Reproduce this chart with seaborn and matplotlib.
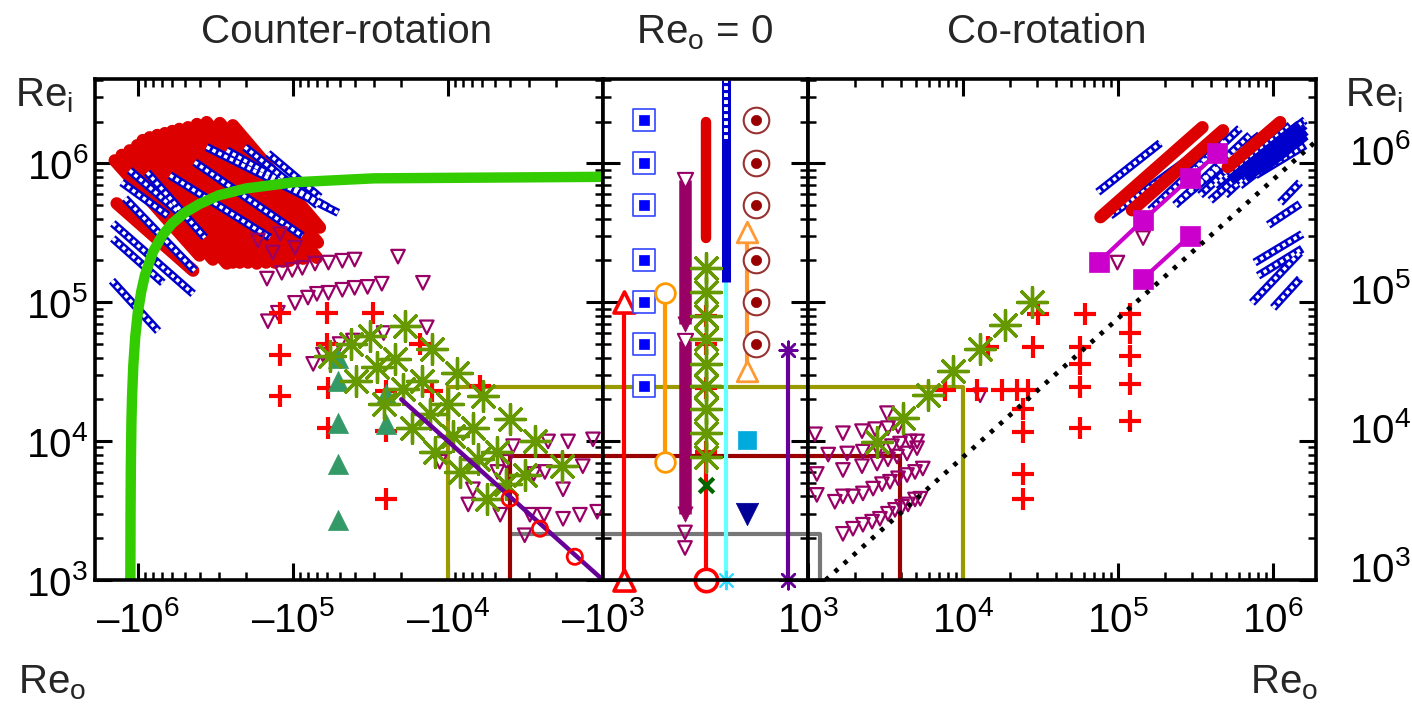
import warnings
warnings.filterwarnings("ignore")
import numpy as np
import pandas as pd
import matplotlib
matplotlib.use("Agg")
import matplotlib.pyplot as plt
import seaborn as sns
from matplotlib.ticker import FixedLocator, LogLocator, NullFormatter, FuncFormatter
from matplotlib.transforms import ScaledTranslation

sns.set_theme(style="ticks")
plt.rcParams.update({
    "font.family": ["Liberation Sans", "DejaVu Sans"],
    "mathtext.fontset": "custom",
    "mathtext.rm": "Liberation Sans",
    "mathtext.it": "Liberation Sans:italic",
    "mathtext.bf": "Liberation Sans:bold",
    "mathtext.default": "regular",
    "axes.edgecolor": "black",
    "xtick.color": "black",
    "ytick.color": "black",
})

# ===================== DATA =====================
# ---------- counter-rotation panel (Re_o < 0) ----------
# red filled-circle runs (start / end of each run)
cr_red_ro0 = [-1.37e6, -1.41e6, -1.27e6, -1.13e6, -1.01e6, -9.3e5, -8.4e5, -7.5e5, -6.7e5, -6.0e5,
              -5.4e5, -4.75e5, -4.16e5, -3.6e5, -2.96e5, -2.44e5]
cr_red_ri0 = [5.15e5, 1.05e6, 1.15e6, 1.24e6, 1.35e6, 1.47e6, 1.54e6, 1.60e6, 1.65e6, 1.71e6,
              1.77e6, 1.82e6, 1.92e6, 1.98e6, 1.95e6, 1.88e6]
cr_red_ro1 = [-4.4e5, -4.0e5, -3.28e5, -2.67e5, -2.44e5, -2.2e5, -1.95e5, -1.71e5, -1.49e5, -1.31e5,
              -1.16e5, -1.05e5, -8.6e4, -7.0e4, -6.9e4, -6.7e4]
cr_red_ri1 = [1.69e5, 2.17e5, 2.03e5, 1.90e5, 1.93e5, 1.93e5, 1.93e5, 1.90e5, 1.93e5, 1.93e5,
              1.96e5, 1.99e5, 2.06e5, 2.09e5, 2.69e5, 3.45e5]
# blue open-square runs
cr_blue_ro0 = [-1.47e6, -1.45e6, -1.45e6, -1.21e6, -1.27e6, -1.13e6, -8.7e5, -6.2e5, -4.3e5, -3.6e5, -2.67e5, -2.04e5, -1.45e5]
cr_blue_ri0 = [1.43e5, 2.88e5, 3.7e5, 5.6e5, 7.3e5, 8.9e5, 8.6e5, 8.2e5, 1.02e6, 1.31e6, 1.24e6, 1.31e6, 1.18e6]
cr_blue_ro1 = [-7.4e5, -6.9e5, -4.4e5, -4.3e5, -6.4e5, -5.4e5, -3.7e5, -1.41e5, -8.7e4, -5.1e4, -5.9e4, -6.9e4, -6.7e4]
cr_blue_ri1 = [6.2e4, 1.38e5, 1.15e5, 1.69e5, 4.2e5, 4.4e5, 2.92e5, 2.92e5, 3.0e5, 4.4e5, 4.8e5, 4.98e5, 5.7e5]
# green stability curve
cr_curve_ro = [-1.0e3, -3.0e4, -1.0e5, -2.0e5, -3.0e5, -4.0e5, -5.0e5, -6.0e5, -7.0e5, -8.0e5,
               -9.0e5, -9.5e5, -1.0e6, -1.04e6, -1.07e6, -1.09e6, -1.10e6, -1.11e6, -1.115e6, -1.118e6]
cr_curve_ri = [8.0e5, 7.8e5, 7.3e5, 6.6e5, 5.9e5, 5.1e5, 4.4e5, 3.7e5, 3.0e5, 2.3e5,
               1.57e5, 1.2e5, 8.5e4, 5.6e4, 3.5e4, 2.1e4, 1.4e4, 6.5e3, 2.9e3, 1.0e3]
# purple open triangles
cr_tri_ro = [-1.68e5, -1.35e5, -1.21e5, -9.7e4,
             -1.47e5, -1.18e5, -1.01e5, -8.7e4, -7.2e4, -5.9e4, -4.8e4, -4.0e4, -2.1e4, -1.45e4,
             -1.45e5, -1.25e5, -9.7e4, -8.0e4, -7.0e4, -5.9e4, -4.8e4, -4.0e4, -3.3e4, -2.67e4,
             -7.4e4, -6.4e4, -5.0e4, -4.1e4, -2.6e4, -1.37e4,
             -3.8e3, -4.2e3, -4.8e3, -6.9e3, -7.4e3, -4.6e3, -3.2e3, -2.96e3, -2.4e3, -1.81e3,
             -1.41e3, -1.09e3, -2.26e3, -1.68e3, -1.16e3, -1.35e3, -1.81e3, -2.37e3, -2.8e3, -1.13e4]
cr_tri_ri = [2.78e5, 2.28e5, 3.1e5, 2.47e5,
             1.48e5, 1.63e5, 1.71e5, 1.77e5, 1.90e5, 1.93e5, 1.99e5, 2.03e5, 2.13e5, 1.38e5,
             7.3e4, 8.4e4, 9.9e4, 1.08e5, 1.15e5, 1.17e5, 1.23e5, 1.27e5, 1.29e5, 1.36e5,
             3.6e4, 4.2e4, 5.0e4, 5.3e4, 6.0e4, 6.6e4,
             9.2e3, 7.1e3, 6.0e3, 4.5e3, 3.5e3, 2.95e3, 2.1e3, 2.95e3, 2.95e3, 2.76e3,
             2.95e3, 3.1e3, 9.95e3, 9.95e3, 1.03e4, 6.6e3, 4.5e3, 6.0e3, 5.8e3, 7.1e3]
# red plus
cr_plus_ro = [-1.21e5, -6.0e4, -3.05e4, -1.21e5, -1.21e5, -6.0e4, -5.9e4, -5.9e4, -2.5e4, -2.5e4, -2.5e4, -1.52e4, -1.27e4, -6.2e3]
cr_plus_ri = [8.4e4, 8.4e4, 8.4e4, 4.2e4, 2.1e4, 5.0e4, 2.4e4, 1.24e4, 2.29e4, 1.18e4, 3.85e3, 5.0e4, 2.29e4, 2.5e4]
# teal filled triangles
cr_teal_ro = [-5.1e4, -5.1e4, -5.1e4, -5.1e4, -5.1e4, -2.5e4, -2.5e4]
cr_teal_ri = [4.0e4, 2.7e4, 1.34e4, 6.8e3, 2.7e3, 1.32e4, 2.2e4]
# green asterisks (seven runs of four)
cr_ast_ro = [-5.8e4, -4.2e4, -3.2e4, -1.9e4,
             -3.9e4, -2.87e4, -2.2e4, -1.27e4,
             -2.6e4, -1.95e4, -1.47e4, -8.7e3,
             -1.71e4, -1.31e4, -1.0e4, -5.9e3,
             -1.21e4, -9.3e3, -6.9e3, -4.0e3,
             -8.4e3, -6.4e3, -4.8e3, -2.75e3,
             -5.6e3, -4.2e3, -3.2e3, -1.84e3]
cr_ast_ri = [4.1e4, 5.0e4, 5.7e4, 6.7e4,
             2.7e4, 3.4e4, 3.9e4, 4.6e4,
             1.84e4, 2.37e4, 2.7e4, 3.1e4,
             1.24e4, 1.56e4, 1.84e4, 2.1e4,
             8.4e3, 1.08e4, 1.24e4, 1.44e4,
             6.0e3, 7.4e3, 8.4e3, 9.95e3,
             3.85e3, 4.9e3, 5.7e3, 6.6e3]
# indigo line and red open circles
cr_line_ro = [-2.0e4, -1.0e3]
cr_line_ri = [2.0e4, 1.0e3]
cr_circ_ro = [-1.52e3, -2.55e3, -4.0e3]
cr_circ_ri = [1.47e3, 2.34e3, 3.85e3]

# ---------- boxes spanning the three panels ----------
olive_ro, olive_ri = 1.0e4, 2.45e4
dred_ro_l, dred_ro_r, dred_ri = 4.0e3, 3.9e3, 7.8e3
gray_ro_l, gray_ro_r, gray_ri = 3.9e3, 1.2e3, 2.15e3

# ---------- Re_o = 0 panel ----------
mid_redtri_ri = [1.0e3, 1.0e5]
mid_sq_ri = [2.05e6, 1.0e6, 5.0e5, 2.0e5, 1.0e5, 5.0e4, 2.5e4]
mid_orcirc_ri = [7.1e3, 1.17e5]
mid_purple_top = [7.6e5, 5.3e4]
mid_purple_bot = [7.0e4, 3.0e3]
mid_purple_open = [2.2e3, 1.7e3]
mid_redcap_ri = [2.0e6, 2.9e5]
mid_ast_ri = [1.77e5, 1.19e5, 7.9e4, 5.4e4, 3.6e4, 2.5e4, 1.7e4, 1.15e4, 7.7e3]
mid_plus_ri = [7.9e4, 5.0e4, 2.4e4, 8.4e3]
mid_redcirc_ri = [1.0e3, 7.7e3]
mid_x_ri = [4.8e3]
mid_cyan_ri = [1.0e3, 1.4e5]
mid_bluecol_ri = [1.4e5, 4.0e6]
mid_bluecol_open = [1.5e6, 4.0e6]
mid_ortri_ri = [3.2e4, 3.2e5]
mid_cyansq_ri = [1.02e4]
mid_dbtri_ri = [3.0e3]
mid_bull_ri = [2.05e6, 1.0e6, 5.0e5, 2.0e5, 1.0e5, 5.0e4]
mid_indigo_ri = [1.0e3, 4.5e4]

# ---------- co-rotation panel (Re_o > 0) ----------
co_red_ro0 = [7.7e4, 1.23e5, 5.1e5]
co_red_ri0 = [4.1e5, 4.6e5, 9.4e5]
co_red_ro1 = [3.5e5, 4.75e5, 1.11e6]
co_red_ri1 = [1.82e6, 1.73e6, 1.98e6]
co_blue_ro0 = [7.4e4, 8.9e4, 1.61e5, 2.33e5, 3.38e5, 4.2e5, 5.3e5, 6.6e5, 3.14e5,
               2.51e5, 2.9e5, 3.93e5, 4.9e5, 6.1e5, 7.7e5,
               1.11e6, 9.3e5, 7.6e5, 8.0e5, 7.3e5, 1.0e6]
co_blue_ri0 = [6.2e5, 4.2e5, 4.6e5, 5.0e5, 5.9e5, 6.9e5, 8.2e5, 9.7e5, 8.9e5,
               5.4e5, 6.4e5, 5.4e5, 5.9e5, 6.9e5, 8.2e5,
               5.2e5, 3.6e5, 1.93e5, 1.55e5, 9.9e4, 9.1e4]
co_blue_ro1 = [1.87e5, 3.38e5, 4.9e5, 7.1e5, 9.6e5, 1.29e6, 1.61e6, 1.61e6, 6.1e5,
               6.1e5, 8.2e5, 1.11e6, 1.39e6, 1.61e6, 1.61e6,
               1.49e6, 1.49e6, 1.54e6, 1.54e6, 1.49e6, 1.49e6]
co_blue_ri1 = [1.40e6, 1.24e6, 1.47e6, 1.60e6, 1.73e6, 1.88e6, 2.05e6, 1.88e6, 1.79e6,
               1.24e6, 1.60e6, 1.47e6, 1.73e6, 1.60e6, 1.35e6,
               7.3e5, 5.1e5, 3.1e5, 2.43e5, 2.28e5, 1.48e5]
# densely packed blue runs (markers fully overlapping)
co_dense_ro0 = [5.3e5, 6.6e5, 8.2e5]
co_dense_ri0 = [7.5e5, 7.8e5, 8.9e5]
co_dense_ro1 = [1.49e6, 1.61e6, 1.61e6]
co_dense_ri1 = [1.88e6, 1.73e6, 1.60e6]
co_mag1_ro = [7.5e4, 1.45e5, 2.9e5, 4.35e5]
co_mag1_ri = [1.95e5, 3.9e5, 7.8e5, 1.18e6]
co_mag2_ro = [1.45e5, 2.9e5]
co_mag2_ri = [1.48e5, 3.0e5]
co_tri_ro = [1.68e3, 1.95e3, 2.26e3, 2.59e3, 2.91e3, 3.28e3, 3.64e3, 4.04e3, 4.42e3, 4.9e3, 5.3e3,
             1.49e3, 1.68e3, 1.95e3, 2.26e3, 2.63e3, 3.0e3, 3.38e3, 3.81e3, 4.35e3, 4.9e3, 5.5e3,
             1.68e3, 2.23e3, 2.79e3, 3.28e3, 3.75e3, 4.35e3, 5.05e3,
             1.35e3, 1.79e3, 2.26e3, 2.83e3, 3.48e3, 3.92e3, 4.55e3, 5.05e3,
             1.68e3, 2.23e3, 2.71e3, 3.28e3, 3.81e3,
             3.23e3, 1.29e4, 1.11e3, 1.14e3, 1.14e3, 9.9e4, 1.45e5]
co_tri_ri = [2.15e3, 2.34e3, 2.5e3, 2.63e3, 2.76e3, 3.0e3, 3.2e3, 3.37e3, 3.5e3, 3.8e3, 3.85e3,
             3.66e3, 4.0e3, 4.0e3, 4.2e3, 4.55e3, 4.9e3, 5.1e3, 5.4e3, 5.7e3, 6.0e3, 6.35e3,
             6.2e3, 6.6e3, 6.9e3, 7.4e3, 7.75e3, 8.15e3, 8.9e3,
             8.0e3, 8.15e3, 8.4e3, 8.7e3, 9.2e3, 9.6e3, 9.95e3, 9.95e3,
             1.14e4, 1.18e4, 1.22e4, 1.24e4, 1.28e4,
             1.59e4, 2.14e4, 1.12e4, 5.8e3, 4.1e3, 1.93e5, 2.9e5]
co_plus_ro = [3.05e4, 6.1e4, 1.19e5, 2.83e4, 1.45e4, 5.7e4, 5.7e4, 5.7e4, 5.7e4,
              1.19e5, 1.19e5, 1.19e5, 1.19e5, 2.44e4, 2.44e4, 2.44e4, 2.44e4,
              7.7e3, 1.23e4, 1.79e4, 2.23e4, 2.63e4]
co_plus_ri = [8.2e4, 8.2e4, 8.2e4, 4.8e4, 4.8e4, 4.8e4, 3.6e4, 2.45e4, 1.24e4,
              6.0e4, 4.1e4, 2.57e4, 1.39e4, 1.69e4, 1.16e4, 5.8e3, 3.8e3,
              2.33e4, 2.33e4, 2.33e4, 2.33e4, 2.33e4]
co_ast_ro = [2.8e3, 4.1e3, 5.9e3, 8.6e3, 1.29e4, 1.87e4, 2.8e4]
co_ast_ri = [9.8e3, 1.46e4, 2.14e4, 3.2e4, 4.6e4, 6.9e4, 1.01e5]
co_dot_ro = [1.3e3, 1.9e6]
co_dot_ri = [1.0e3, 1.45e6]

# ---------- axis text ----------
left_xticks = [1e6, 1e5, 1e4, 1e3]
right_xticks = [1e3, 1e4, 1e5, 1e6]
yticks = [1e3, 1e4, 1e5, 1e6]
titles = ["Counter-rotation", r"Re$_{o}$ = 0", "Co-rotation"]

# ===================== STYLE =====================
RED = "#dd0000"
PLUS = "#ff0000"
BLUE = "#0000cc"
PURP = "#990066"
AST = "#669900"
TEAL = "#339966"
GREEN = "#33cc00"
OLIVE = "#999900"
DRED = "#990000"
GRAY = "#777777"
INDIGO = "#660099"
MAG = "#cc00cc"
ASTM = (8, 2, 0)
UNFILLED = ("+", "x")

fig = plt.figure(figsize=(14.12, 7.08), dpi=100)
B, H = 128 / 708, 501 / 708
axL = fig.add_axes([95 / 1412, B, 508 / 1412, H])
axM = fig.add_axes([603 / 1412, B, 205 / 1412, H])
axR = fig.add_axes([808 / 1412, B, 508 / 1412, H])
for ax in (axL, axM, axR):
    ax.set_yscale("log")
axL.set_xscale("log")
axR.set_xscale("log")


def neg(v):
    return -np.asarray(v, float)


def pts(ax, x, y, marker, s, color, fc=None, lw=1.5, z=5, clip=True):
    kw = dict(marker=marker, s=s, color=color, linewidth=lw, zorder=z, legend=False, clip_on=clip)
    if isinstance(marker, tuple) or marker in UNFILLED:
        kw["facecolor"] = color
    else:
        kw["facecolor"] = color if fc is None else fc
        kw["edgecolor"] = color
    sns.scatterplot(x=np.asarray(x, float), y=np.asarray(y, float), ax=ax, **kw)


def line(ax, x, y, color, lw, z=3, **kw):
    sns.lineplot(x=np.asarray(x, float), y=np.asarray(y, float), ax=ax, estimator=None, sort=False,
                 color=color, lw=lw, zorder=z, legend=False, **kw)


def segs(ax, x0, y0, x1, y1, color, lw, z, **kw):
    rows = []
    for k, (a, b, c, d) in enumerate(zip(x0, y0, x1, y1)):
        rows += [(k, a, b), (k, c, d)]
    df = pd.DataFrame(rows, columns=["seg", "x", "y"])
    sns.lineplot(data=df, x="x", y="y", units="seg", estimator=None, sort=False, ax=ax,
                 color=color, lw=lw, zorder=z, legend=False, **kw)


def chains(ax, x0, y0, x1, y1, z):
    # a run of open squares: blue band with small white holes
    segs(ax, x0, y0, x1, y1, BLUE, 6.0, z, solid_capstyle="butt")
    segs(ax, x0, y0, x1, y1, "white", 2.6, z + 0.01, linestyle=(0, (1.0, 0.8)),
         dash_capstyle="butt")


# ---------------- left panel ----------------
YTOP = 4.05e6
line(axL, [olive_ro, olive_ro, 1e3], [1e3, olive_ri, olive_ri], OLIVE, 3, z=2)
line(axL, [dred_ro_l, dred_ro_l, 1e3], [1e3, dred_ri, dred_ri], DRED, 3, z=2.2)
line(axL, [gray_ro_l, 1e3], [gray_ri, gray_ri], GRAY, 3, z=2.1)
segs(axL, neg(cr_red_ro0), cr_red_ri0, neg(cr_red_ro1), cr_red_ri1, RED, 9, 3,
     solid_capstyle="round")
chains(axL, neg(cr_blue_ro0), cr_blue_ri0, neg(cr_blue_ro1), cr_blue_ri1, 4)
pts(axL, neg(cr_tri_ro), cr_tri_ri, "v", 95, PURP, fc="none", lw=1.6, z=5)
pts(axL, neg(cr_plus_ro), cr_plus_ri, "+", 270, PLUS, lw=3, z=5.2)
pts(axL, neg(cr_teal_ro), cr_teal_ri, "^", 210, TEAL, lw=0.5, z=5.5)
pts(axL, neg(cr_ast_ro), cr_ast_ri, ASTM, 460, AST, lw=2.4, z=6)
line(axL, neg(cr_line_ro), cr_line_ri, INDIGO, 3.2, z=6.5)
pts(axL, neg(cr_circ_ro), cr_circ_ri, "o", 120, PLUS, fc="none", lw=2, z=7)
line(axL, neg(cr_curve_ro), cr_curve_ri, GREEN, 7.5, z=8, solid_capstyle="butt")

# ---------------- middle panel ----------------
slot = {"redtri": 1, "sq": 2, "orc": 3, "pur": 4, "cap": 5, "cyan": 6, "ort": 7, "bull": 7.45, "ind": 9}
axM.axhline(olive_ri, color=OLIVE, lw=3, zorder=2)
axM.axhline(dred_ri, color=DRED, lw=3, zorder=2.2)
axM.axhline(gray_ri, color=GRAY, lw=3, zorder=2.1)


def col(key, vals):
    return [slot[key]] * len(vals)


line(axM, col("redtri", mid_redtri_ri), mid_redtri_ri, PLUS, 3)
pts(axM, col("redtri", mid_redtri_ri), mid_redtri_ri, "^", 230, PLUS, fc="white", lw=2.6, z=5, clip=False)
pts(axM, col("sq", mid_sq_ri), mid_sq_ri, "s", 250, "#3344ff", fc="white", lw=1.2, z=5)
pts(axM, col("sq", mid_sq_ri), mid_sq_ri, "s", 60, "#0000ff", lw=0.5, z=5.1)
line(axM, col("orc", mid_orcirc_ri), mid_orcirc_ri, "#ff9900", 3)
pts(axM, col("orc", mid_orcirc_ri), mid_orcirc_ri, "o", 200, "#ff9900", fc="white", lw=2, z=5)
segs(axM, col("pur", mid_purple_top), mid_purple_top, col("pur", mid_purple_bot), mid_purple_bot,
     PURP, 9, 3, solid_capstyle="butt")
pts(axM, col("pur", mid_purple_bot), mid_purple_bot, "v", 120, PURP, lw=0.5, z=3.5)
pts(axM, col("pur", mid_purple_top), mid_purple_top, "v", 120, PURP, fc="white", lw=1.5, z=3.6)
pts(axM, col("pur", mid_purple_open), mid_purple_open, "v", 95, PURP, fc="none", lw=1.6, z=5)
line(axM, col("cap", mid_redcap_ri), mid_redcap_ri, RED, 7.5, z=3, solid_capstyle="round")
line(axM, col("cap", mid_redcirc_ri), mid_redcirc_ri, PLUS, 3, z=3)
pts(axM, col("cap", mid_plus_ri), mid_plus_ri, "+", 270, PLUS, lw=3, z=4)
pts(axM, col("cap", mid_ast_ri), mid_ast_ri, ASTM, 460, AST, lw=2.4, z=5)
pts(axM, col("cap", mid_redcirc_ri[:1]), mid_redcirc_ri[:1], "o", 260, PLUS, fc="white", lw=2.6, z=6, clip=False)
pts(axM, col("cap", mid_x_ri), mid_x_ri, "x", 110, "#006600", lw=3, z=5)
line(axM, col("cyan", mid_cyan_ri), mid_cyan_ri, "#66ffff", 3, z=3)
pts(axM, col("cyan", mid_cyan_ri[:1]), mid_cyan_ri[:1], ASTM, 160, "#33ddff", lw=1.5, z=5, clip=False)
line(axM, col("cyan", mid_bluecol_ri), mid_bluecol_ri, BLUE, 6.5, z=3.5, solid_capstyle="butt")
line(axM, col("cyan", mid_bluecol_open), mid_bluecol_open, "white", 2.8, z=3.6,
     linestyle=(0, (1.0, 0.8)), dash_capstyle="butt")
line(axM, col("ort", mid_ortri_ri), mid_ortri_ri, "#ff9933", 3, z=3)
pts(axM, col("ort", mid_ortri_ri), mid_ortri_ri, "^", 220, "#ff9933", fc="white", lw=2, z=5)
pts(axM, col("ort", mid_cyansq_ri), mid_cyansq_ri, "s", 180, "#00aadd", lw=0.5, z=5)
pts(axM, col("ort", mid_dbtri_ri), mid_dbtri_ri, "v", 260, "#000099", lw=0.5, z=5)
pts(axM, col("bull", mid_bull_ri), mid_bull_ri, "o", 340, "#993333", fc="white", lw=1.5, z=5)
pts(axM, col("bull", mid_bull_ri), mid_bull_ri, "o", 55, DRED, lw=0.5, z=5.1)
line(axM, col("ind", mid_indigo_ri), mid_indigo_ri, INDIGO, 3, z=3)
pts(axM, col("ind", mid_indigo_ri), mid_indigo_ri, ASTM, 160, INDIGO, lw=1.8, z=5, clip=False)

# ---------------- right panel ----------------
line(axR, [1e3, olive_ro, olive_ro], [olive_ri, olive_ri, 1e3], OLIVE, 3, z=2)
line(axR, [1e3, dred_ro_r, dred_ro_r], [dred_ri, dred_ri, 1e3], DRED, 3, z=2.2)
line(axR, [1e3, gray_ro_r, gray_ro_r], [gray_ri, gray_ri, 1e3], GRAY, 3, z=2.1)
chains(axR, co_blue_ro0, co_blue_ri0, co_blue_ro1, co_blue_ri1, 3)
segs(axR, co_dense_ro0, co_dense_ri0, co_dense_ro1, co_dense_ri1, BLUE, 8, 3.2, solid_capstyle="butt")
segs(axR, co_red_ro0, co_red_ri0, co_red_ro1, co_red_ri1, RED, 9, 4, solid_capstyle="round")
line(axR, co_mag1_ro, co_mag1_ri, MAG, 3, z=5)
line(axR, co_mag2_ro, co_mag2_ri, MAG, 3, z=5)
pts(axR, co_mag1_ro + co_mag2_ro, co_mag1_ri + co_mag2_ri, "s", 210, MAG, lw=0.5, z=5.1)
pts(axR, co_tri_ro, co_tri_ri, "v", 95, PURP, fc="none", lw=1.6, z=5)
pts(axR, co_plus_ro, co_plus_ri, "+", 270, PLUS, lw=3, z=5.2)
pts(axR, co_ast_ro, co_ast_ri, ASTM, 460, AST, lw=2.4, z=6)
line(axR, co_dot_ro, co_dot_ri, "black", 3.4, z=7, linestyle=(0, (0.9, 1.7)))

# ---------------- axes styling ----------------
FS = 29
for ax in (axL, axM, axR):
    ax.set_xlabel("")
    ax.set_ylabel("")
    ax.set_ylim(1e3, YTOP)
    ax.yaxis.set_major_locator(FixedLocator(yticks))
    ax.yaxis.set_minor_locator(LogLocator(10, subs=np.arange(2, 10) * 1.0, numticks=100))
    ax.yaxis.set_minor_formatter(NullFormatter())
    ax.tick_params(which="major", direction="in", length=12, width=2.2,
                   top=True, bottom=True, left=True, right=True, labelsize=FS)
    ax.tick_params(which="minor", direction="in", length=6, width=1.8,
                   top=True, bottom=True, left=True, right=True)
    for sp in ax.spines.values():
        sp.set_linewidth(2.6)
        sp.set_color("black")
        sp.set_zorder(20)

fmt_y = FuncFormatter(lambda v, p: r"$10^{%d}$" % round(np.log10(v)))
axL.set_xlim(1.89e6, 1e3)
axL.xaxis.set_major_locator(FixedLocator(left_xticks))
axL.xaxis.set_minor_locator(LogLocator(10, subs=np.arange(2, 10) * 1.0, numticks=100))
axL.xaxis.set_minor_formatter(NullFormatter())
axL.xaxis.set_major_formatter(FuncFormatter(lambda v, p: "$\u201310^{%d}$" % round(np.log10(v))))
axL.yaxis.set_major_formatter(fmt_y)
axL.tick_params(axis="y", labelleft=True, labelright=False, pad=5)
axL.tick_params(axis="x", pad=15)

axR.set_xlim(1e3, 1.89e6)
axR.xaxis.set_major_locator(FixedLocator(right_xticks))
axR.xaxis.set_minor_locator(LogLocator(10, subs=np.arange(2, 10) * 1.0, numticks=100))
axR.xaxis.set_minor_formatter(NullFormatter())
axR.xaxis.set_major_formatter(FuncFormatter(lambda v, p: r"$10^{%d}$" % round(np.log10(v))))
axR.yaxis.set_major_formatter(fmt_y)
axR.tick_params(axis="y", labelleft=False, labelright=True, pad=24)
axR.tick_params(axis="x", pad=15)

axM.set_xlim(0, 10)
axM.tick_params(axis="x", which="both", bottom=False, top=False, labelbottom=False)
axM.tick_params(axis="y", labelleft=False, labelright=False)

fig.canvas.draw()
for lab in axR.get_yticklabels():
    lab.set_transform(lab.get_transform() + ScaledTranslation(0, 0.14, fig.dpi_scale_trans))

# ---------------- figure text ----------------
fig.text(15 / 1412, 1 - 106 / 708, r"Re$_{i}$", fontsize=29, ha="left", va="baseline")
fig.text(1345 / 1412, 1 - 106 / 708, r"Re$_{i}$", fontsize=29, ha="left", va="baseline")
fig.text(18 / 1412, 1 - 693 / 708, r"Re$_{o}$", fontsize=29, ha="left", va="baseline")
fig.text(1250 / 1412, 1 - 693 / 708, r"Re$_{o}$", fontsize=29, ha="left", va="baseline")
for xc, t in zip([347, 705, 1047], titles):
    fig.text(xc / 1412, 1 - 43 / 708, t, fontsize=29, ha="center", va="baseline")

fig.savefig("out.png", dpi=100, facecolor="white")
